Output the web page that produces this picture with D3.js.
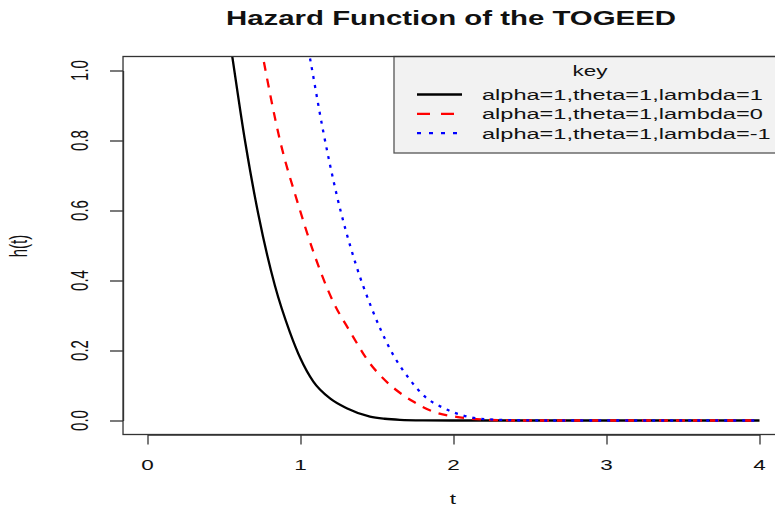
<!DOCTYPE html>
<html>
<head>
<meta charset="utf-8">
<script src="https://cdn.jsdelivr.net/npm/d3@7"></script>
<style>
  html, body { margin: 0; padding: 0; background: #fff; }
  svg text { font-family: "Liberation Sans", Arial, sans-serif; fill: #111; }
</style>
</head>
<body>
<div id="chart"></div>
<script>
// values: t and h(t) for each curve
const blackT = [0.53, 0.554, 0.637, 0.724, 0.833, 0.931, 1.0, 1.084, 1.193, 1.302, 1.454, 1.55, 1.65, 1.8, 2.0, 4.0];
const blackH = [1.11, 1.04, 0.80, 0.59, 0.385, 0.252, 0.177, 0.111, 0.063, 0.035, 0.011, 0.005, 0.002, 0.0005, 0.0, 0.0];

const redT = [0.72, 0.754, 0.866, 0.986, 1.084, 1.214, 1.324, 1.454, 1.541, 1.737, 1.87, 2.04, 2.22, 2.4, 4.0];
const redH = [1.12, 1.04, 0.80, 0.616, 0.482, 0.339, 0.254, 0.163, 0.12, 0.054, 0.025, 0.009, 0.002, 0.0, 0.0];

const blueT = [1.03, 1.06, 1.149, 1.237, 1.356, 1.465, 1.589, 1.716, 1.814, 1.933, 2.064, 2.24, 2.39, 2.6, 4.0];
const blueH = [1.11, 1.04, 0.825, 0.644, 0.454, 0.321, 0.201, 0.116, 0.068, 0.036, 0.014, 0.003, 0.001, 0.0, 0.0];

const seriesNames = ['alpha=1,theta=1,lambda=1', 'alpha=1,theta=1,lambda=0', 'alpha=1,theta=1,lambda=-1'];
const xTicks = [0, 1, 2, 3, 4];
const yTicks = [0, 0.2, 0.4, 0.6, 0.8, 1.0];

// the original picture is stretched sideways, so text gets widened too
const stretch = 1.5;

const series = [
  { name: seriesNames[0], t: blackT, h: blackH, color: '#000', dash: null, legendDash: null },
  { name: seriesNames[1], t: redT, h: redH, color: '#ff0000', dash: '9,8', legendDash: '13,11' },
  { name: seriesNames[2], t: blueT, h: blueH, color: '#0000ff', dash: '3,6', legendDash: '4,8' }
];

const W = 775, H = 514;
const svg = d3.select('#chart').append('svg')
  .attr('width', W)
  .attr('height', H);

const x = d3.scaleLinear().domain([0, 4]).range([147.5, 759.5]);
const y = d3.scaleLinear().domain([0, 1]).range([420.5, 70.5]);

const boxL = x(-0.16), boxR = x(4.16), boxT = y(1.04), boxB = y(-0.04);

function label(px, py, str, opts = {}) {
  const rot = opts.rotate ? ' rotate(' + opts.rotate + ')' : '';
  return svg.append('text')
    .attr('transform', `translate(${px},${py}) scale(${opts.sx || stretch},1)${rot}`)
    .attr('text-anchor', opts.anchor || 'middle')
    .attr('font-size', opts.size || 15)
    .attr('font-weight', opts.weight || 'normal')
    .text(str);
}

// clip region for curves
svg.append('clipPath').attr('id', 'plotclip')
  .append('rect')
  .attr('x', boxL).attr('y', boxT)
  .attr('width', boxR - boxL).attr('height', boxB - boxT);

// curves
const line = d3.line()
  .x(d => x(d[0]))
  .y(d => y(d[1]))
  .curve(d3.curveMonotoneX);

series.forEach(s => {
  svg.append('path')
    .datum(s.t.map((t, i) => [t, s.h[i]]))
    .attr('clip-path', 'url(#plotclip)')
    .attr('fill', 'none')
    .attr('stroke', s.color)
    .attr('stroke-width', 2.3)
    .attr('stroke-dasharray', s.dash)
    .attr('d', line);
});

// axes: R style ticks on the box edges
const xAxis = svg.append('g')
  .attr('transform', `translate(0,${boxB})`)
  .call(d3.axisBottom(x).tickValues(xTicks).tickSize(10).tickSizeOuter(0).tickFormat(''));
const yAxis = svg.append('g')
  .attr('transform', `translate(${boxL},0)`)
  .call(d3.axisLeft(y).tickValues(yTicks).tickSize(13).tickSizeOuter(0).tickFormat(''));
[xAxis, yAxis].forEach(a => {
  a.selectAll('line').attr('stroke', '#333').attr('stroke-width', 1.3);
  a.select('.domain').attr('stroke', '#333').attr('stroke-width', 1.3);
});

xTicks.forEach(v => label(x(v), 470, String(v)));
yTicks.forEach(v => label(88, y(v), v.toFixed(1), { rotate: -90, sx: 1.6 }));

// legend (topright)
svg.append('rect')
  .attr('x', 394).attr('y', boxT)
  .attr('width', boxR - 394).attr('height', 153 - boxT)
  .attr('fill', '#f2f2f2')
  .attr('stroke', '#555')
  .attr('stroke-width', 1.3);

label(590, 76, 'key');
series.forEach((s, i) => {
  const ly = 94.5 + i * 19.3;
  svg.append('line')
    .attr('x1', 417).attr('x2', 462)
    .attr('y1', ly).attr('y2', ly)
    .attr('stroke', s.color)
    .attr('stroke-width', 2.3)
    .attr('stroke-dasharray', s.legendDash);
  label(482, ly + 5.5, s.name, { anchor: 'start', sx: 1.57 });
});

// plot box
svg.append('rect')
  .attr('x', boxL).attr('y', boxT)
  .attr('width', boxR - boxL).attr('height', boxB - boxT)
  .attr('fill', 'none')
  .attr('stroke', '#333')
  .attr('stroke-width', 1.3);

// titles
label(451, 24.5, 'Hazard Function of the TOGEED', { size: 21, weight: 'bold', sx: 1.4 });
label(453, 504, 't', { size: 15 });
label(27, 246, 'h(t)', { size: 15, rotate: -90, sx: 1.6 });
</script>
</body>
</html>
